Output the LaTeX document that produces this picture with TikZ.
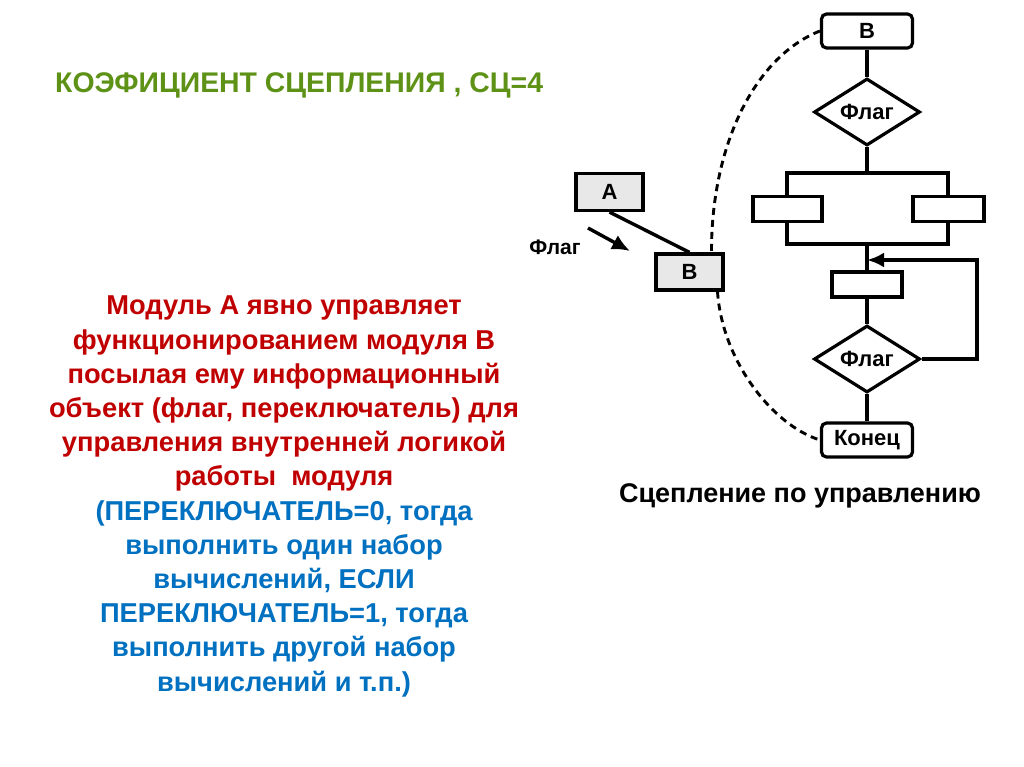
\documentclass[tikz,border=0pt]{standalone}
\usepackage{fontspec}
\setmainfont{Liberation Sans}
\usetikzlibrary{shapes.geometric,arrows.meta}
\definecolor{titlegreen}{RGB}{94,146,22}
\definecolor{darkred}{RGB}{192,0,0}
\definecolor{textblue}{RGB}{0,112,192}
\tikzset{
  fc/.style={draw=black, line width=3.2pt},
  rbox/.style={fc, rounded corners=5pt, minimum width=91pt, minimum height=34pt, inner sep=0pt, font=\fontsize{22}{22}\selectfont\bfseries, fill=white},
  pbox/.style={fc, minimum height=25pt, inner sep=0pt, fill=white},
  mbox/.style={fc, minimum width=67pt, minimum height=37pt, inner sep=0pt, fill=black!9, font=\fontsize{22}{22}\selectfont\bfseries},
  dia/.style={fc, diamond, aspect=1.58, minimum width=106pt, minimum height=67pt, inner sep=0pt, fill=white, font=\fontsize{22}{22}\selectfont\bfseries},
  link/.style={line width=3.4pt},
  dlink/.style={line width=2.9pt, dash pattern=on 7pt off 5pt},
}
\begin{document}
\begin{tikzpicture}[x=1pt,y=-1pt]
\useasboundingbox[fill=white] (0,0) rectangle (1024,767);
% title
\node[anchor=base west, inner sep=0pt, text=titlegreen, font=\fontsize{28.4}{28.4}\selectfont\bfseries] (title) at (55,93) {КОЭФИЦИЕНТ СЦЕПЛЕНИЯ , СЦ=4};
% description
\node[anchor=north, inner sep=0pt, align=center, font=\fontsize{27.3}{34.2}\selectfont\bfseries] (desc) at (284,296)
{\color{darkred}Модуль А явно управляет\\
\color{darkred}функционированием модуля В\\
\color{darkred}посылая ему информационный\\
\color{darkred}объект (флаг, переключатель) для\\
\color{darkred}управления внутренней логикой\\
\color{darkred}работы\ \ модуля\\
\color{textblue}(ПЕРЕКЛЮЧАТЕЛЬ=0, тогда\\
\color{textblue}выполнить один набор\\
\color{textblue}вычислений, ЕСЛИ\\
\color{textblue}ПЕРЕКЛЮЧАТЕЛЬ=1, тогда\\
\color{textblue}выполнить другой набор\\
\color{textblue}вычислений и т.п.)};
% caption
\node[anchor=base, inner sep=0pt, font=\fontsize{27}{27}\selectfont\bfseries] (cap) at (800,502) {Сцепление по управлению};

% flowchart
\node[rbox] (Btop) at (867,31) {В};
\node[dia] (d1) at (867,112) {Флаг};
\node[fc, minimum width=161pt, minimum height=71pt, inner sep=0pt] (split) at (867.5,208.5) {};
\node[pbox, minimum width=69pt] (pl) at (787.5,209) {};
\node[pbox, minimum width=71pt] (pr) at (948.5,209) {};
\node[pbox, minimum width=70pt] (pm) at (867,284.5) {};
\node[dia] (d2) at (867,359) {Флаг};
\node[rbox] (end) at (867,440) {Конец};
\coordinate (loopR) at (977,359);
\coordinate (loopT) at (977,260);
\coordinate (loopIn) at (867,260);

\draw[link] (Btop.south) -- (d1.north);
\draw[link] (d1.south) -- (split.north -| d1.south);
\draw[link] (split.south -| pm.north) -- (pm.north);
\draw[link] (pm.south) -- (d2.north);
\draw[link] (d2.south) -- (end.north);
\draw[link, -{Latex[length=17pt,width=15pt]}] (d2.east) -- (loopR) -- (loopT) -- (loopIn);

% modules A and B
\node[mbox] (A) at (609.5,192) {А};
\node[mbox, minimum height=36pt] (Bs) at (689.5,272) {В};
\node[anchor=base, inner sep=0pt, font=\fontsize{21}{21}\selectfont\bfseries] (flag) at (555,254) {Флаг};
\coordinate (fs) at (588,228);
\coordinate (fe) at (630,251);
\draw[link] (A.south) -- (Bs.north);
\draw[link, -{Latex[length=18pt,width=16pt]}] (fs) -- (fe);

% dashed control arcs
\draw[dlink] (Btop.west) .. controls (752,58) and (711,150) .. ([xshift=22pt]Bs.north);
\draw[dlink] ([xshift=28pt]Bs.south) .. controls (722,360) and (772,425) .. (end.west);
\end{tikzpicture}
\end{document}
